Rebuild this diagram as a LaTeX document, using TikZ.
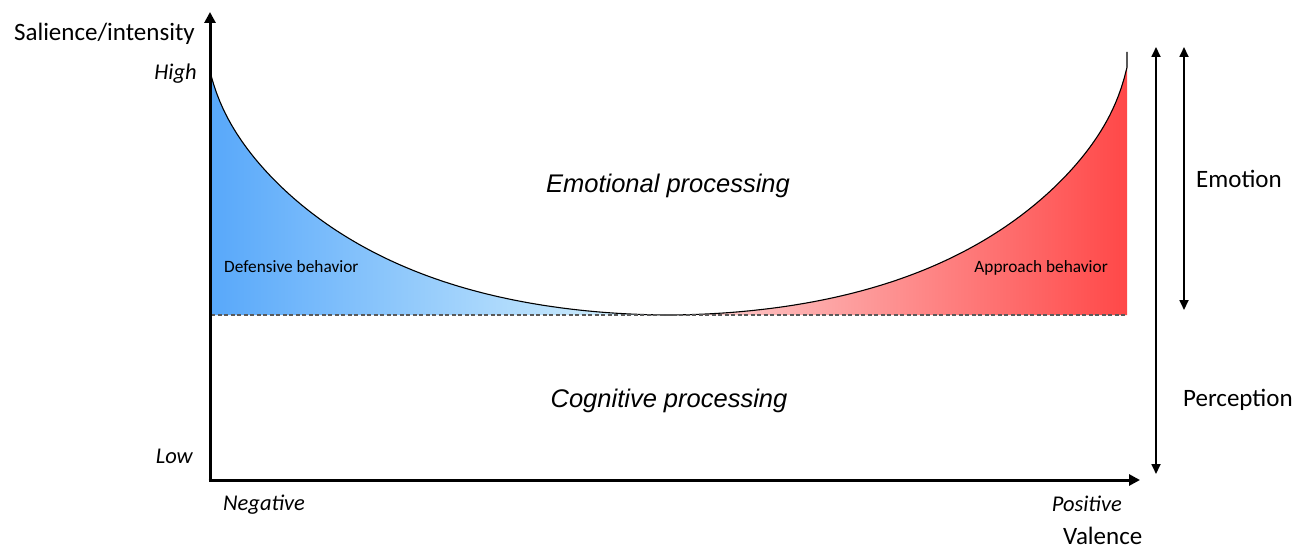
\documentclass[tikz,border=0pt]{standalone}
\usepackage{fontspec}
\setmainfont{Carlito}
\newfontfamily\helv{Liberation Sans}
\usetikzlibrary{arrows.meta}
\definecolor{blueL}{RGB}{88,168,250}
\definecolor{blueR}{RGB}{222,246,253}
\definecolor{redL}{RGB}{252,214,214}
\definecolor{redR}{RGB}{255,72,72}
\definecolor{dashgray}{RGB}{90,90,90}
\tikzset{
  axis/.style={line width=3pt,-{Triangle[length=11pt,width=11pt]}},
  span/.style={line width=1.8pt,{Triangle[length=10pt,width=9pt]}-{Triangle[length=10pt,width=9pt]}},
  curve/.style={line width=1.1pt,black},
  base/.style={line width=1.2pt,dashgray,dash pattern=on 4pt off 2.5pt},
  axlab/.style={font=\fontsize{25}{28}\selectfont,inner sep=0pt},
  ticklab/.style={font=\fontsize{22.5}{26}\selectfont\itshape,inner sep=0pt},
  proc/.style={font=\helv\fontsize{25.5}{29}\selectfont\itshape,inner sep=0pt},
  beh/.style={font=\fontsize{17.3}{20}\selectfont,inner sep=0pt}
}
\begin{document}
\begin{tikzpicture}[x=1pt,y=-1pt,
  declare function={rise(\d)=36.5*(cosh(0.0055*\d)-1)+1100*(1/(478-\d)-1/478);}]
\useasboundingbox (0,0) rectangle (1306,548);
% coordinates
\coordinate (O) at (210,480);
\coordinate (ytip) at (210,12);
\coordinate (xtip) at (1140,480);
\coordinate (bl) at (211,315);
\coordinate (mid) at (668,315);
\coordinate (br) at (1127,315);
\coordinate (rtop) at (1127,52);
\coordinate (ptop) at (1156,47);
\coordinate (pbot) at (1156,474);
\coordinate (etop) at (1184,47);
\coordinate (ebot) at (1184,310);
% fills
\shade[left color=blueL,right color=blueR]
  plot[domain=211:668,samples=160] (\x,{315-rise(668-\x)})
  -- (bl) -- cycle;
\shade[left color=redL,right color=redR]
  plot[domain=668:1127,samples=160] (\x,{315-rise(\x-668)})
  -- (br) -- cycle;
% curves
\draw[curve] plot[domain=211:668,samples=160] (\x,{315-rise(668-\x)});
\draw[curve] plot[domain=668:1127,samples=160] (\x,{315-rise(\x-668)}) -- (rtop);
\draw[base] (bl) -- (br);
% axes
\draw[axis] (O) -- (ytip);
\draw[axis] ([xshift=-1.5pt]O) -- (xtip);
% spans
\draw[span] (ptop) -- (pbot);
\draw[span] (etop) -- (ebot);
% labels
\node[axlab,anchor=base east] (sal) at (195,41) {Salience/intensity};
\node[ticklab,anchor=base east] (high) at (197,80) {High};
\node[ticklab,anchor=base east] (low) at (193,463) {Low};
\node[ticklab,anchor=base west] (neg) at (223,510) {Negative};
\node[ticklab,anchor=base east] (pos) at (1122,511) {Positive};
\node[axlab,anchor=base west] (val) at (1063,544) {Valence};
\node[axlab,anchor=base west] (emo) at (1196,188) {Emotion};
\node[axlab,anchor=base west] (perc) at (1183,406) {Perception};
\node[proc,anchor=base] (ep) at (668,193) {Emotional processing};
\node[proc,anchor=base] (cp) at (669,407) {Cognitive processing};
\node[beh,anchor=base west] (def) at (224,272) {Defensive behavior};
\node[beh,anchor=base east] (app) at (1108,272) {Approach behavior};
\end{tikzpicture}
\end{document}
